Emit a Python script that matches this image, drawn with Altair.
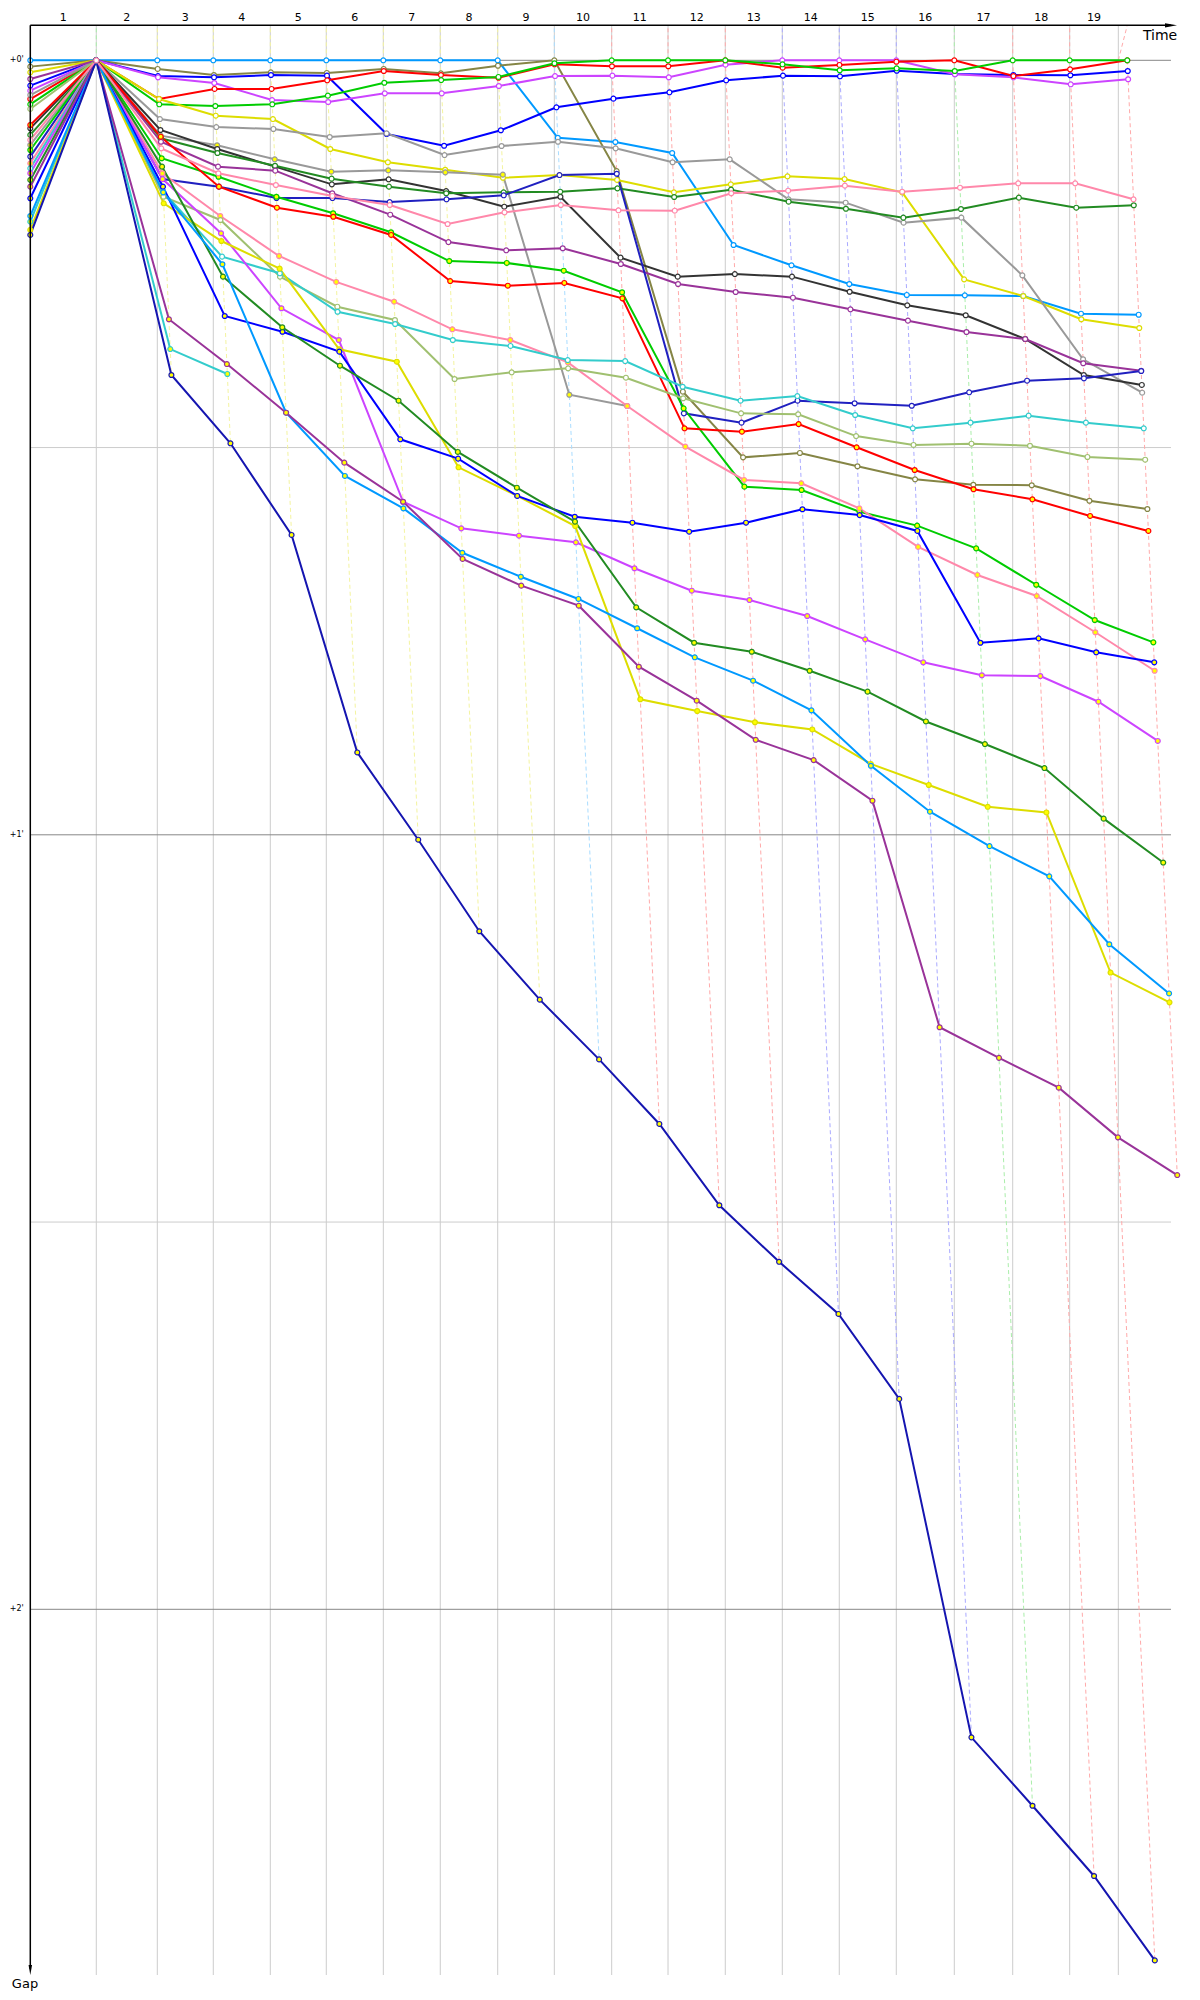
import altair as alt
import pandas as pd

# ---------------- data ----------------
# leader's elapsed time (s) at the end of laps 1..19 (vertical grid lines)
lap_end = [114.1, 219.6, 316.4, 415.0, 511.8, 610.4, 708.9, 808.2, 906.1, 1005.3,
           1102.7, 1201.7, 1300.3, 1398.8, 1497.4, 1597.7, 1698.7, 1797.2, 1881.3]
finish_time = 1896.8
lap_labels = [str(i) for i in range(1, 20)]
gap_ticks = [0, 30, 60, 90, 120]
gap_tick_labels = ["+0'", "", "+1'", "", "+2'"]
# colour family of the dashed "same lap" line for columns 1..19
dash_kind = ["green", "yellow", "yellow", "yellow", "yellow", "yellow", "yellow", "yellow",
             "sky", "red", "red", "red", "blue", "blue", "blue", "green", "red", "red", "red"]

# gaps to the leader in seconds, timing columns 0..19
gap_A = [0.00, 0.00, 0.00, 0.00, 0.00, 0.00, 0.00, 0.00, 0.00, 6.00, 6.33, 7.18, 14.31, 15.88, 17.33, 18.18, 18.21, 18.26, 19.63, 19.71]
gap_B = [0.49, 0.00, 0.67, 1.14, 0.93, 0.98, 0.67, 1.01, 0.42, 0.00, 8.58, 25.67, 30.76, 30.42, 31.45, 32.46, 32.88, 32.92, 34.12, 34.76]
gap_C = [1.96, 0.00, 1.22, 1.32, 1.14, 1.19, 5.71, 6.62, 5.42, 3.64, 2.97, 2.48, 1.55, 1.19, 1.24, 0.81, 1.06, 1.14, 1.16, 0.83]
gap_D = [2.35, 0.00, 1.32, 1.76, 3.08, 3.23, 2.56, 2.56, 1.99, 1.22, 1.19, 1.32, 0.34, 0.00, 0.00, 0.00, 1.08, 1.32, 1.86, 1.47]
gap_E = [3.00, 0.00, 3.00, 2.22, 2.22, 1.55, 0.83, 1.14, 1.35, 0.31, 0.46, 0.46, 0.00, 0.57, 0.36, 0.11, 0.00, 1.22, 0.70, 0.00]
gap_F = [3.41, 0.00, 3.41, 3.54, 3.41, 2.74, 1.74, 1.53, 1.29, 0.23, 0.00, 0.00, 0.00, 0.31, 0.77, 0.62, 0.83, 0.00, 0.00, 0.00]
gap_G = [0.93, 0.00, 3.00, 4.29, 4.55, 6.87, 7.90, 8.48, 9.10, 8.89, 9.27, 10.23, 9.61, 8.99, 9.20, 10.23, 16.97, 18.26, 20.06, 20.74]
gap_H = [2.69, 0.00, 4.55, 5.17, 5.32, 5.94, 5.66, 7.34, 6.64, 6.31, 6.82, 7.90, 7.67, 10.77, 11.03, 12.58, 12.19, 16.66, 23.16, 25.75]
gap_I = [6.56, 0.00, 5.84, 6.58, 7.67, 8.63, 8.52, 8.68, 8.86, 25.91, 26.78, None, None, None, None, None, None, None, None, None]
gap_J = [5.27, 0.00, 5.40, 6.87, 8.24, 9.61, 9.22, 10.13, 11.34, 10.57, 15.29, 16.76, 16.56, 16.76, 17.93, 18.98, 19.75, 21.59, 24.38, 25.15]
gap_K = [5.78, 0.00, 6.04, 7.18, 8.17, 9.17, 9.79, 10.30, 10.23, 10.18, 9.92, 10.59, 10.02, 10.95, 11.50, 12.19, 11.52, 10.64, 11.42, 11.23]
gap_L = [1.45, 0.00, 6.31, 8.24, 8.55, 10.30, 11.96, 14.08, 14.72, 14.56, 15.78, 17.33, 17.95, 18.39, 19.29, 20.17, 21.05, 21.59, 23.47, 24.05]
gap_M = [7.46, 0.00, 9.20, 9.79, 10.67, 10.67, 10.98, 10.77, 10.46, 8.89, 8.79, 27.35, 28.07, 26.37, 26.57, 26.76, 25.72, 24.82, 24.64, 24.07]
gap_N = [6.95, 0.00, 7.59, 9.02, 10.57, 11.85, 13.32, 15.55, 15.70, 16.30, 17.97, 26.96, 33.03, 33.29, 34.97, 36.05, 37.81, 40.63, 43.36, 45.09]
gap_O = [5.01, 0.00, 5.92, 9.79, 11.42, 12.12, 13.53, 17.10, 17.46, 17.25, 18.44, 28.51, 28.77, 28.18, 29.98, 31.74, 33.23, 34.01, 35.30, 36.46]
gap_P = [7.98, 0.00, 8.75, 12.06, 15.16, 17.17, 18.70, 20.84, 21.67, 23.40, 26.78, 29.93, 32.51, 32.77, 34.71, 37.70, 39.87, 41.50, 44.31, 47.29]
gap_Q = [3.77, 0.00, 10.57, 12.37, 16.76, 19.09, 20.12, 24.69, 24.17, 23.86, 24.59, 26.18, 27.35, 27.42, 29.11, 29.80, 29.70, 29.86, 30.73, 30.94]
gap_R = [8.37, 0.00, 10.18, 15.21, 16.50, 19.48, 20.43, 21.67, 22.13, 23.22, 23.30, 25.29, 26.37, 26.01, 27.48, 28.51, 28.07, 27.53, 28.07, 28.51]
gap_R2 = [12.50, 0.00, 22.37, 24.30, None, None, None, None, None, None, None, None, None, None, None, None, None, None, None, None]
gap_S = [8.75, 0.00, 9.20, 13.40, 19.21, 21.67, 34.20, 36.26, 36.83, 37.34, 39.35, 41.09, 41.81, 43.05, 44.86, 46.64, 47.64, 47.70, 49.69, 52.73]
gap_T = [13.14, 0.00, 11.08, 14.00, 16.14, 22.39, 23.35, 31.53, 33.75, 36.08, 49.50, 50.41, 51.28, 51.84, 54.51, 56.14, 57.83, 58.27, 70.67, 72.98]
gap_U = [10.69, 0.00, 9.79, 19.81, 21.03, 22.57, 29.36, 30.86, 33.75, 35.36, 35.82, 36.52, 35.82, 34.78, 35.23, 36.46, 45.12, 44.78, 45.86, 46.64]
gap_V = [9.27, 0.00, 8.24, 16.76, 20.68, 23.66, 26.37, 30.34, 33.11, 35.74, 42.38, 45.12, 45.82, 47.29, 48.91, 51.22, 52.97, 54.83, 58.75, 62.15]
gap_W = [12.06, 0.00, 10.23, 15.80, 27.30, 32.20, 34.71, 38.15, 40.01, 41.73, 44.00, 46.25, 48.06, 50.36, 54.65, 58.21, 60.88, 63.22, 68.48, 72.29]
gap_X = [9.79, 0.00, 20.06, 23.53, 27.30, 31.17, 34.20, 38.63, 40.70, 42.25, 46.98, 49.61, 52.64, 54.21, 57.36, 74.91, 77.28, 79.59, 83.44, 86.36]
gap_Y = [13.53, 0.00, 24.38, 29.67, 36.77, 53.62, 60.38, 67.47, 72.77, 77.40, 82.40, 88.70, 93.08, 97.12, 103.70, 129.92, 135.22, 140.66, 147.20, None]
gap_Z = [6.17, 0.00, 6.82, 8.75, 9.66, 10.51, 11.21, 12.68, 11.78, 11.21, 11.62, 11.65, 10.30, 10.10, 9.71, 10.18, 9.87, 9.53, 9.53, 10.77]

names = ["A", "B", "C", "D", "E", "F", "G", "H", "I", "J", "K", "L", "M", "N",
         "O", "P", "Q", "R", "R2", "S", "T", "U", "V", "W", "X", "Y", "Z"]
gap_lists = [gap_A, gap_B, gap_C, gap_D, gap_E, gap_F, gap_G, gap_H, gap_I, gap_J, gap_K,
             gap_L, gap_M, gap_N, gap_O, gap_P, gap_Q, gap_R, gap_R2, gap_S, gap_T, gap_U,
             gap_V, gap_W, gap_X, gap_Y, gap_Z]
# series drawn with yellow-filled markers
marked = ["I", "N", "O", "P", "R2", "S", "T", "U", "V", "W", "X", "Y"]

# ---------------- styles ----------------
series_color = {
    "A": "#0099ff", "B": "#858545", "C": "#0000ff", "D": "#cc44ff", "E": "#ff0000",
    "F": "#00cc00", "G": "#dddd00", "H": "#999999", "I": "#999999", "J": "#333333",
    "K": "#228b22", "L": "#993399", "M": "#2020c0", "N": "#00cc00", "O": "#ff0000",
    "P": "#ff88aa", "Q": "#a0c070", "R": "#33cccc", "R2": "#33cccc", "S": "#cc44ff",
    "T": "#dddd00", "U": "#0000ff", "V": "#228b22", "W": "#0099ff", "X": "#993399",
    "Y": "#1515b0", "Z": "#ff88aa",
}
dash_color = {"green": "#aaeeaa", "yellow": "#f4f4a0", "sky": "#aaddff",
              "red": "#ffaaaa", "blue": "#aaaaff"}
FONT = "DejaVu Sans"
W, H = 1184, 1984
X0, PX_PER_S = 22.3, 34.7 / 60.0      # chart x of time 0, pixels per second (time)
Y0, PY_PER_S = 52.3, 774.5 / 60.0     # chart y of gap 0, pixels per second (gap)
TOP, BOTTOM, RIGHT = 17.3, 1967.0, 1169.0

# ---------------- tables ----------------
col_time = [0.0] + lap_end[:18] + [finish_time]
rows = []
for n, g in zip(names, gap_lists):
    for c, v in enumerate(g):
        if v is None:
            continue
        t = 0.0 if c == 0 else col_time[c] + v
        rows.append({"s": n, "col": c, "gap": v, "t": t,
                     "mark": "y" if n in marked else "w"})
df = pd.DataFrame(rows)

drows = []
for c in range(1, 20):
    m = float(df[df.col == c].gap.max())
    drows.append({"grid": lap_end[c - 1], "base": col_time[c], "zero": 0.0,
                  "end_t": col_time[c] + m, "end_g": m, "kind": dash_kind[c - 1]})
ddf = pd.DataFrame(drows)

prev = [0.0] + lap_end[:-1]
lab_df = pd.DataFrame({"mid": [(a + b) / 2 for a, b in zip(prev, lap_end)], "lab": lap_labels})
tick_df = pd.DataFrame({"g": gap_ticks, "lab": gap_tick_labels,
                        "kind": ["major" if v % 60 == 0 else "minor" for v in gap_ticks]})
one = pd.DataFrame({"a": [0]})

xs = alt.Scale(domain=[-X0 / PX_PER_S, (W - X0) / PX_PER_S], nice=False, zero=False)
ys = alt.Scale(domain=[-Y0 / PY_PER_S, (H - Y0) / PY_PER_S], reverse=True, nice=False, zero=False)
sc_series = alt.Scale(domain=names, range=[series_color[n] for n in names])
sc_dash = alt.Scale(domain=list(dash_color), range=list(dash_color.values()))

vgrid = alt.Chart(pd.DataFrame({"t": lap_end})).mark_rule(color="#cccccc", strokeWidth=1).encode(
    x=alt.X("t:Q", scale=xs, axis=None), y=alt.value(TOP), y2=alt.value(BOTTOM))

hgrid = alt.Chart(tick_df).mark_rule(strokeWidth=1).encode(
    y=alt.Y("g:Q", scale=ys, axis=None), x=alt.value(X0), x2=alt.value(1163),
    stroke=alt.Stroke("kind:N", scale=alt.Scale(domain=["major", "minor"], range=["#888888", "#cccccc"]), legend=None))

dash1 = alt.Chart(ddf).mark_rule(strokeDash=[4, 3], strokeWidth=1).encode(
    x=alt.X("grid:Q", scale=xs, axis=None), x2="base:Q",
    y=alt.Y("zero:Q", scale=ys, axis=None), y2=alt.value(TOP),
    color=alt.Color("kind:N", scale=sc_dash, legend=None))
dash2 = alt.Chart(ddf).mark_rule(strokeDash=[4, 3], strokeWidth=1).encode(
    x=alt.X("base:Q", scale=xs, axis=None), x2="end_t:Q",
    y=alt.Y("zero:Q", scale=ys, axis=None), y2="end_g:Q",
    color=alt.Color("kind:N", scale=sc_dash, legend=None))

lines = alt.Chart(df).mark_line(strokeWidth=2).encode(
    x=alt.X("t:Q", scale=xs, axis=None), y=alt.Y("gap:Q", scale=ys, axis=None),
    color=alt.Color("s:N", scale=sc_series, legend=None), detail="s:N", order="col:Q")

points = alt.Chart(df).mark_point(shape="circle", filled=True, size=24, strokeWidth=1.2, opacity=1).encode(
    x=alt.X("t:Q", scale=xs, axis=None), y=alt.Y("gap:Q", scale=ys, axis=None),
    stroke=alt.Stroke("s:N", scale=sc_series, legend=None),
    fill=alt.Fill("mark:N", scale=alt.Scale(domain=["y", "w"], range=["#ffff00", "#ffffff"]), legend=None))

laps = alt.Chart(lab_df).mark_text(font=FONT, fontSize=11, color="black", baseline="middle").encode(
    x=alt.X("mid:Q", scale=xs, axis=None), y=alt.value(9.5), text="lab:N")

ylabs = alt.Chart(tick_df).mark_text(font=FONT, fontSize=8, color="black", baseline="middle", align="center").encode(
    y=alt.Y("g:Q", scale=ys, axis=None), x=alt.value(8.7), text="lab:N")

xaxis = alt.Chart(one).mark_rule(color="black", strokeWidth=1.5).encode(
    x=alt.value(X0), x2=alt.value(RIGHT - 6), y=alt.value(TOP))
yaxis = alt.Chart(one).mark_rule(color="black", strokeWidth=1.5).encode(
    x=alt.value(X0), y=alt.value(TOP), y2=alt.value(BOTTOM - 6))
xarrow = alt.Chart(one).mark_point(shape="M-1,-0.35L1,0L-1,0.35Z", filled=True, color="black",
                                   size=144, opacity=1).encode(x=alt.value(RIGHT - 6), y=alt.value(TOP))
yarrow = alt.Chart(one).mark_point(shape="M-0.35,-1L0.35,-1L0,1Z", filled=True, color="black",
                                   size=100, opacity=1).encode(x=alt.value(X0), y=alt.value(BOTTOM - 5))
tlabel = alt.Chart(one).mark_text(text="Time", font=FONT, fontSize=14, color="black",
                                  align="center", baseline="middle").encode(x=alt.value(1152), y=alt.value(28))
glabel = alt.Chart(one).mark_text(text="Gap", font=FONT, fontSize=13, color="black",
                                  align="center", baseline="middle").encode(x=alt.value(17), y=alt.value(1976))

chart = alt.layer(vgrid, hgrid, dash1, dash2, lines, points, laps, ylabs,
                  xaxis, yaxis, xarrow, yarrow, tlabel, glabel).resolve_scale(
    color="independent", stroke="independent", fill="independent").properties(
    width=W, height=H, padding=0, autosize="none").configure_view(stroke=None)

chart.save("out.html", embed_options={"renderer": "svg", "actions": False})
